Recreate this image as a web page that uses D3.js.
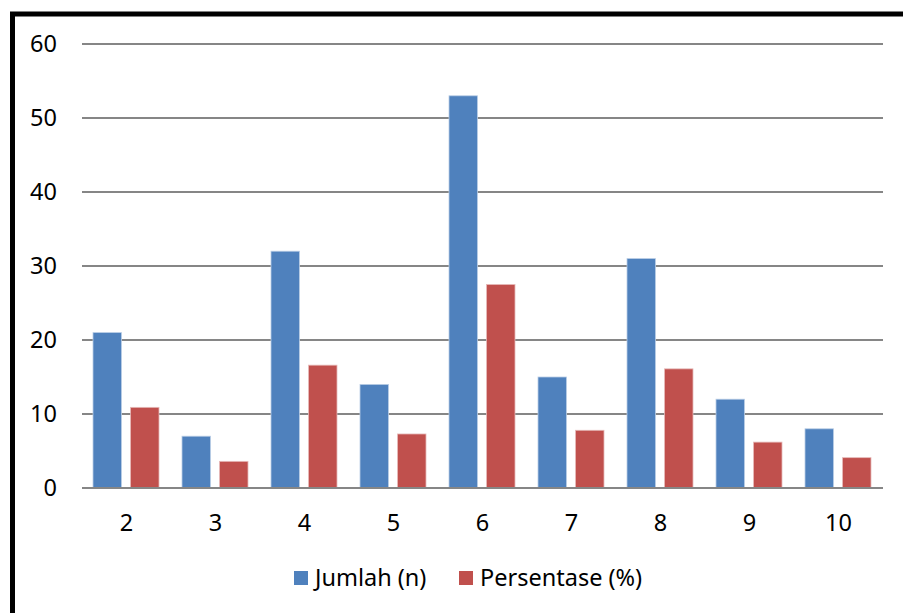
<!DOCTYPE html>
<html lang="id">
<head>
    <meta charset="UTF-8">
    <title>Jumlah dan Persentase</title>
    <script src="https://d3js.org/d3.v7.min.js"></script>
    <style>
        body { margin: 0; background: #fff; }
        text { font-family: "Noto Sans", "DejaVu Sans", sans-serif; fill: #000; }
    </style>
</head>
<body>
    <script>
        // Data
        const categories = ["2", "3", "4", "5", "6", "7", "8", "9", "10"];
        const jumlah = [21, 7, 32, 14, 53, 15, 31, 12, 8];
        const persentase = [10.9, 3.6, 16.6, 7.3, 27.5, 7.8, 16.1, 6.2, 4.1];
        const seriesNames = ["Jumlah (n)", "Persentase (%)"];
        const yTicks = [0, 10, 20, 30, 40, 50, 60];

        const width = 903, height = 613;
        const margin = {left: 82, right: 20, top: 44, bottom: 125};
        const colors = ["#4F81BD", "#C0504D"];
        const strokes = ["#b9cde5", "#e6b9b8"];
        const fontSize = 23.5;

        const svg = d3.select("body").append("svg")
            .attr("width", width)
            .attr("height", height);

        // Frame (only top and left edges visible)
        svg.append("rect")
            .attr("x", 12.5).attr("y", 14)
            .attr("width", width + 20).attr("height", height + 20)
            .attr("fill", "none")
            .attr("stroke", "#000")
            .attr("stroke-width", 5);

        const x = d3.scaleBand()
            .domain(categories)
            .range([margin.left, 883]);

        const xInner = d3.scaleBand()
            .domain([0, 1])
            .range([11, 77])
            .paddingInner(8 / 33);

        const y = d3.scaleLinear()
            .domain([0, 60])
            .range([488, 44]);

        // Gridlines
        svg.append("g")
            .selectAll("line")
            .data(yTicks)
            .join("line")
            .attr("x1", margin.left)
            .attr("x2", 883)
            .attr("y1", d => y(d))
            .attr("y2", d => y(d))
            .attr("stroke", "#868686")
            .attr("stroke-width", 2);

        // Y labels
        svg.append("g")
            .selectAll("text")
            .data(yTicks)
            .join("text")
            .attr("x", 57)
            .attr("y", d => y(d))
            .attr("dy", "0.35em")
            .attr("text-anchor", "end")
            .attr("font-size", fontSize)
            .text(d => d);

        // Bars
        const rows = categories.map((c, i) => ({c, vals: [jumlah[i], persentase[i]]}));
        const groups = svg.append("g")
            .selectAll("g")
            .data(rows)
            .join("g")
            .attr("transform", d => `translate(${x(d.c)},0)`);

        groups.selectAll("rect")
            .data(d => d.vals.map((v, k) => ({v, k})))
            .join("rect")
            .attr("x", d => xInner(d.k))
            .attr("width", xInner.bandwidth())
            .attr("y", d => y(d.v))
            .attr("height", d => y(0) - y(d.v))
            .attr("fill", d => colors[d.k])
            .attr("stroke", d => strokes[d.k])
            .attr("stroke-width", 0.8);

        // Baseline on top of bars
        svg.append("line")
            .attr("x1", margin.left).attr("x2", 883)
            .attr("y1", y(0)).attr("y2", y(0))
            .attr("stroke", "#868686")
            .attr("stroke-width", 2);

        // X labels
        svg.append("g")
            .selectAll("text")
            .data(categories)
            .join("text")
            .attr("x", d => x(d) + x.bandwidth() / 2)
            .attr("y", 523)
            .attr("dy", "0.35em")
            .attr("text-anchor", "middle")
            .attr("font-size", fontSize)
            .text(d => d);

        // Legend
        const legendX = [294, 459];
        const legend = svg.append("g")
            .selectAll("g")
            .data(seriesNames)
            .join("g")
            .attr("transform", (d, i) => `translate(${legendX[i]},578)`);

        legend.append("rect")
            .attr("x", 0).attr("y", -7)
            .attr("width", 14).attr("height", 14)
            .attr("fill", (d, i) => colors[i]);

        legend.append("text")
            .attr("x", 21)
            .attr("dy", "0.35em")
            .attr("font-size", fontSize)
            .text(d => d);
    </script>
</body>
</html>
